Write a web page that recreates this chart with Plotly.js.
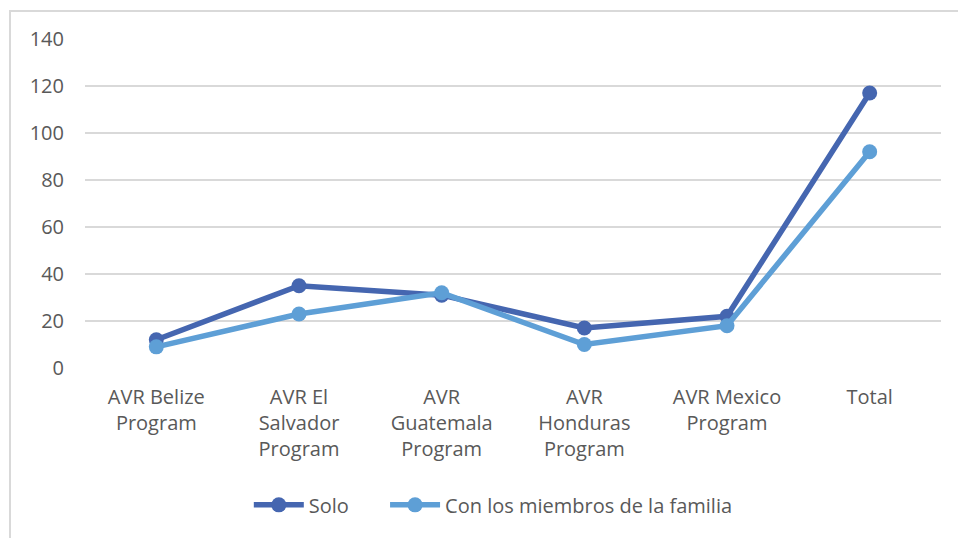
<!DOCTYPE html>
<html>
<head>
<meta charset="utf-8">
<script src="https://cdn.plot.ly/plotly-3.0.1.min.js"></script>
<style>
html,body{margin:0;padding:0;background:#fff;overflow:hidden;}
#frame{position:absolute;left:9px;top:10px;width:1000px;height:600px;border-left:2px solid #d9d9d9;border-top:2px solid #d9d9d9;box-sizing:border-box;}
#chart{position:absolute;left:0;top:0;width:958px;height:538px;}
</style>
</head>
<body>
<div id="frame"></div>
<div id="chart"></div>
<script>
const categories = ["AVR Belize<br>Program", "AVR El<br>Salvador<br>Program", "AVR<br>Guatemala<br>Program", "AVR<br>Honduras<br>Program", "AVR Mexico<br>Program", "Total"];
const soloValues = [12, 35, 31, 17, 22, 117];
const familiaValues = [9, 23, 32, 10, 18, 92];
const yTicks = [0, 20, 40, 60, 80, 100, 120, 140];
const seriesNames = ["Solo", "Con los miembros de la familia"];

const traces = [
  {x: categories, y: soloValues, name: seriesNames[0] + "\u00a0\u00a0\u00a0\u00a0\u00a0\u00a0", type: "scatter", mode: "lines+markers",
   line: {color: "#4566B0", width: 5.5}, marker: {color: "#4566B0", size: 15}},
  {x: categories, y: familiaValues, name: seriesNames[1], type: "scatter", mode: "lines+markers",
   line: {color: "#5E9FD6", width: 5.5}, marker: {color: "#5E9FD6", size: 15}}
];

const layout = {
  width: 958, height: 538,
  paper_bgcolor: "rgba(0,0,0,0)", plot_bgcolor: "rgba(0,0,0,0)",
  margin: {l: 85, r: 17, t: 39, b: 170},
  font: {family: "'Open Sans', Lato, sans-serif", size: 20, color: "#595959"},
  showlegend: true,
  legend: {orientation: "h", x: 0.477, xanchor: "center", y: -0.416, yanchor: "middle",
           font: {size: 20, color: "#595959"}, itemwidth: 50, traceorder: "normal"},
  xaxis: {type: "category", range: [-0.5, 5.5], showgrid: false, zeroline: false, showline: false,
          ticks: "", tickfont: {size: 20, color: "#595959"}, ticklabelstandoff: 15, fixedrange: true},
  yaxis: {range: [0, 140], tickvals: yTicks, showgrid: true, gridcolor: "#d9d9d9", gridwidth: 1.5,
          zeroline: false, showline: false, ticks: "", ticklabelstandoff: 20,
          tickfont: {size: 20, color: "#595959"}, fixedrange: true}
};

Plotly.newPlot("chart", traces, layout, {displayModeBar: false, staticPlot: true});
</script>
</body>
</html>
